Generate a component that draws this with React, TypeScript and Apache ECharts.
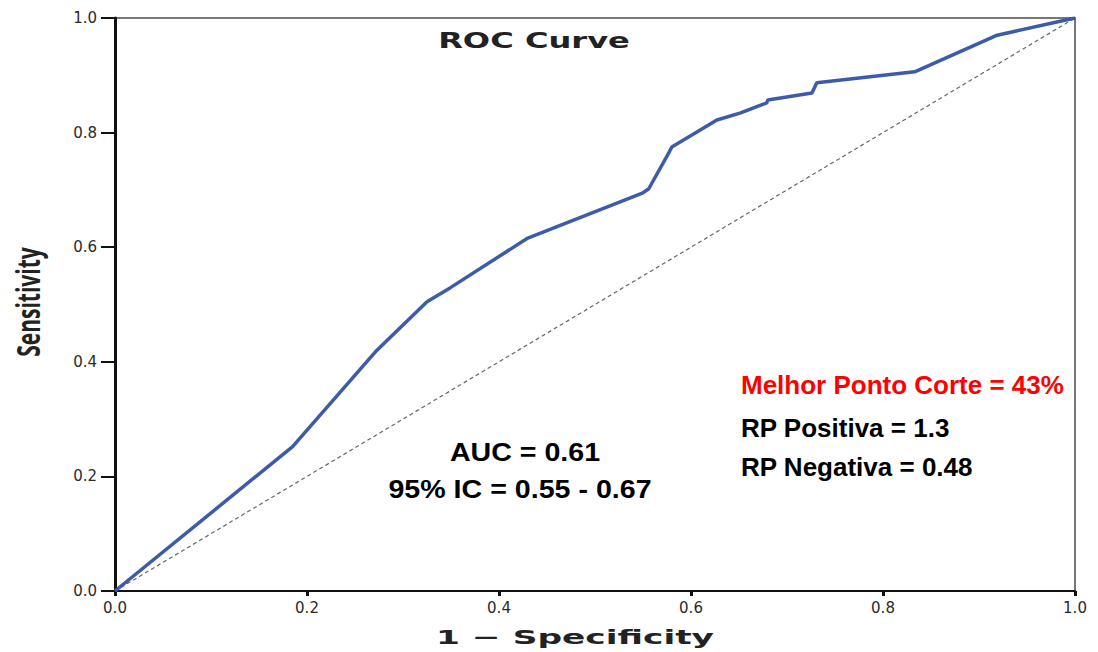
import React, { useEffect, useRef } from "react";
import * as echarts from "echarts";

// ROC curve coordinates (1 - specificity, sensitivity)
const falsePositiveRate = [0, 0.185, 0.271, 0.325, 0.349, 0.43, 0.55, 0.556, 0.577, 0.58, 0.627, 0.651, 0.679, 0.68, 0.726, 0.731, 0.833, 0.919, 1];
const sensitivity = [0, 0.252, 0.417, 0.505, 0.529, 0.616, 0.695, 0.702, 0.765, 0.775, 0.822, 0.834, 0.852, 0.857, 0.869, 0.887, 0.906, 0.97, 1];

// Reference (chance) line
const chanceX = [0, 1];
const chanceY = [0, 1];

const tickValues = [0, 0.2, 0.4, 0.6, 0.8, 1.0];

const chartTitle = "ROC Curve";
const xTitle = "1 − Specificity";
const yTitle = "Sensitivity";
const aucLines = ["AUC = 0.61", "95% IC = 0.55 - 0.67"];
const cutoffLine = "Melhor Ponto Corte = 43%";
const ratioLines = ["RP Positiva = 1.3", "RP Negativa = 0.48"];

export default function App() {
  const ref = useRef<HTMLDivElement>(null);

  useEffect(() => {
    document.body.style.margin = "0";
    if (!ref.current) return;
    const chart = echarts.init(ref.current, undefined, { renderer: "svg" });

    const rocData = falsePositiveRate.map((x, i) => [x, sensitivity[i]]);
    const chanceData = chanceX.map((x, i) => [x, chanceY[i]]);

    const axisFont = { fontFamily: "DejaVu Sans", fontSize: 15, color: "#2a2a2a" };
    const noteFont = "Liberation Sans";

    const note = (text: string, x: number, y: number, fill: string, align: string, scaleX = 1) => ({
      type: "text",
      x,
      y,
      scaleX,
      style: {
        text,
        fontFamily: noteFont,
        fontWeight: "bold",
        fontSize: 26,
        fill,
        align,
        verticalAlign: "middle",
      },
    });

    chart.setOption({
      animation: false,
      backgroundColor: "#fff",
      grid: {
        left: 115,
        right: 23,
        top: 18,
        bottom: 61,
        show: true,
        borderColor: "#777",
        borderWidth: 2,
        backgroundColor: "transparent",
      },
      xAxis: {
        type: "value",
        min: 0,
        max: 1,
        interval: 0.2,
        splitLine: { show: false },
        axisLine: { show: true, onZero: false, lineStyle: { color: "#111", width: 2 } },
        axisTick: { show: true, length: 5, lineStyle: { color: "#111", width: 3 } },
        axisLabel: {
          ...axisFont,
          margin: 9,
          formatter: (v: number) => (tickValues.some((t) => Math.abs(t - v) < 1e-9) ? v.toFixed(1) : ""),
        },
      },
      yAxis: {
        type: "value",
        min: 0,
        max: 1,
        interval: 0.2,
        splitLine: { show: false },
        axisLine: { show: true, onZero: false, lineStyle: { color: "#111", width: 3 } },
        axisTick: { show: true, length: 14, lineStyle: { color: "#111", width: 2 } },
        axisLabel: {
          ...axisFont,
          margin: 18,
          formatter: (v: number) => v.toFixed(1),
        },
      },
      series: [
        {
          type: "line",
          data: chanceData,
          showSymbol: false,
          lineStyle: { color: "#666", width: 1.2, type: [4, 3] },
          z: 2,
        },
        {
          type: "line",
          data: rocData,
          showSymbol: false,
          lineStyle: { color: "#3c5ba8", width: 3.5 },
          z: 3,
        },
      ],
      graphic: [
        {
          type: "text",
          x: 534,
          y: 40,
          scaleX: 1.46,
          style: {
            text: chartTitle,
            fontFamily: "DejaVu Sans",
            fontWeight: "bold",
            fontSize: 22,
            fill: "#222",
            align: "center",
            verticalAlign: "middle",
          },
        },
        {
          type: "text",
          x: 575,
          y: 637,
          scaleX: 1.72,
          style: {
            text: xTitle,
            fontFamily: "DejaVu Sans",
            fontWeight: "bold",
            fontSize: 20,
            fill: "#222",
            align: "center",
            verticalAlign: "middle",
          },
        },
        {
          type: "text",
          x: 28,
          y: 302,
          rotation: Math.PI / 2,
          scaleY: 1.5,
          style: {
            text: yTitle,
            fontFamily: "Open Sans",
            fontWeight: "bold",
            fontSize: 21,
            fill: "#222",
            align: "center",
            verticalAlign: "middle",
          },
        },
        note(aucLines[0], 525, 452, "#000", "center", 1.1),
        note(aucLines[1], 520, 489, "#000", "center", 1.1),
        note(cutoffLine, 741, 385, "#ff0000", "left"),
        note(ratioLines[0], 741, 428, "#000", "left"),
        note(ratioLines[1], 741, 467, "#000", "left"),
      ],
    });

    return () => chart.dispose();
  }, []);

  return <div ref={ref} style={{ width: 1098, height: 652 }} />;
}
